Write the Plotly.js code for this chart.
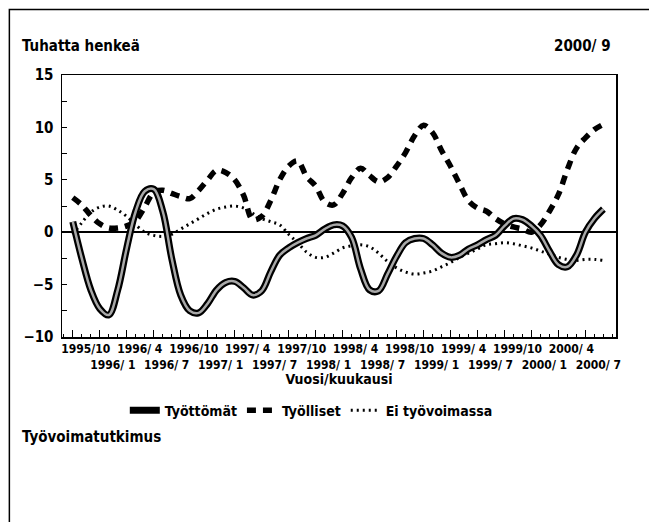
<!DOCTYPE html>
<html>
<head>
<meta charset="utf-8">
<script src="https://cdn.plot.ly/plotly-3.0.1.min.js"></script>
<style>
html,body{margin:0;padding:0;background:#fff;}
#chart{width:649px;height:522px;}
</style>
</head>
<body>
<div id="chart"></div>
<script>
// Monthly observations 1995/10 ... 2000/9 (change from previous year, thousand persons)
const months = [
  '1995/10','1995/11','1995/12',
  '1996/1','1996/2','1996/3','1996/4','1996/5','1996/6','1996/7','1996/8','1996/9','1996/10','1996/11','1996/12',
  '1997/1','1997/2','1997/3','1997/4','1997/5','1997/6','1997/7','1997/8','1997/9','1997/10','1997/11','1997/12',
  '1998/1','1998/2','1998/3','1998/4','1998/5','1998/6','1998/7','1998/8','1998/9','1998/10','1998/11','1998/12',
  '1999/1','1999/2','1999/3','1999/4','1999/5','1999/6','1999/7','1999/8','1999/9','1999/10','1999/11','1999/12',
  '2000/1','2000/2','2000/3','2000/4','2000/5','2000/6','2000/7','2000/8','2000/9'
];
const tyottomat = [
  1.0,-2.5,-5.5,-7.3,-7.9,-5.5,-1.5,2.0,3.9,4.1,
  2.0,-2.5,-6.0,-7.5,-7.7,-6.8,-5.5,-4.8,-4.7,-5.3,
  -6.0,-5.6,-3.8,-2.2,-1.5,-1.0,-0.6,-0.3,0.3,0.7,
  0.6,-0.5,-3.5,-5.5,-5.6,-4.0,-2.3,-1.0,-0.6,-0.6,
  -1.2,-2.0,-2.4,-2.2,-1.6,-1.2,-0.7,-0.3,0.6,1.3,
  1.2,0.6,-0.3,-1.8,-3.1,-3.3,-2.2,0.0,1.3,2.2
];
const tyolliset = [
  3.3,2.6,1.6,0.8,0.4,0.4,0.6,1.1,2.4,3.8,
  4.0,3.7,3.4,3.2,4.0,5.0,5.9,5.7,5.0,3.5,
  1.2,1.5,3.0,5.0,6.3,6.8,5.3,4.4,2.9,2.6,
  3.7,5.2,6.1,5.4,4.8,5.2,6.3,7.6,9.2,10.2,
  9.5,7.8,6.3,4.6,3.0,2.3,2.0,1.3,0.8,0.5,
  0.3,0.0,0.7,2.0,3.6,6.0,8.0,9.0,9.8,10.3
];
const eiTyovoimassa = [
  -0.2,0.9,1.9,2.4,2.5,2.1,1.5,0.7,0.0,-0.3,
  -0.4,-0.2,0.3,0.8,1.3,1.8,2.2,2.4,2.5,2.3,
  1.8,1.3,1.0,0.7,-0.2,-1.0,-1.9,-2.4,-2.4,-2.0,
  -1.5,-1.3,-1.2,-1.4,-2.0,-2.8,-3.4,-3.8,-4.0,-3.9,
  -3.7,-3.3,-2.9,-2.4,-2.0,-1.6,-1.2,-1.1,-1.0,-1.1,
  -1.3,-1.5,-1.8,-2.1,-2.4,-2.6,-2.7,-2.6,-2.6,-2.7
];
const tickMonths = ['1995/10','1996/1','1996/4','1996/7','1996/10','1997/1','1997/4','1997/7','1997/10',
  '1998/1','1998/4','1998/7','1998/10','1999/1','1999/4','1999/7','1999/10','2000/1','2000/4','2000/7'];
const tickLabels = ['1995/10','1996/ 1','1996/ 4','1996/ 7','1996/10','1997/ 1','1997/ 4','1997/ 7','1997/10',
  '1998/ 1','1998/ 4','1998/ 7','1998/10','1999/ 1','1999/ 4','1999/ 7','1999/10','2000/ 1','2000/ 4','2000/ 7'];
const seriesNames = ['Työttömät','Työlliset','Ei työvoimassa'];

const FONT = 'Liberation Sans Narrow, DejaVu Sans Condensed, Arial Narrow, sans-serif';
const x = months.map((m, i) => i);
const tickVals = tickMonths.map(t => months.indexOf(t));
const tickText = tickLabels.map((t, i) => i % 2 === 1 ? '<br>' + t : t);

const traces = [
  {x: x, y: eiTyovoimassa, name: seriesNames[2], mode: 'lines', type: 'scatter',
   line: {color: '#000', width: 3, dash: '2px,4px', shape: 'spline'}, legendrank: 3},
  {x: x, y: tyolliset, name: seriesNames[1], mode: 'lines', type: 'scatter',
   line: {color: '#000', width: 5.5, dash: '9px,7px', shape: 'spline'}, legendrank: 2},
  {x: x, y: tyottomat, name: seriesNames[0], mode: 'lines', type: 'scatter',
   line: {color: '#000', width: 7, shape: 'spline'}, legendrank: 1},
  {x: x, y: tyottomat, name: seriesNames[0], mode: 'lines', type: 'scatter', showlegend: false,
   line: {color: '#a8a8a8', width: 2.5, shape: 'spline'}, hoverinfo: 'skip'}
];

const layout = {
  width: 649, height: 522,
  margin: {l: 62, r: 33, t: 75, b: 185},
  paper_bgcolor: '#fff', plot_bgcolor: '#fff',
  font: {family: FONT, size: 13, color: '#000'},
  showlegend: true,
  legend: {orientation: 'h', x: 0.45, xanchor: 'center', y: -0.22, yanchor: 'top',
    font: {family: FONT, size: 14, color: '#000', weight: 'bold'}, traceorder: 'normal',
    itemwidth: 30, tracegroupgap: 0},
  xaxis: {
    range: [-1.2, 60.4], showgrid: false, zeroline: false,
    showline: true, mirror: true, linecolor: '#000', linewidth: 1.5,
    ticks: 'inside', ticklen: 7, tickcolor: '#000', tickwidth: 1,
    tickmode: 'array', tickvals: tickVals, ticktext: tickText,
    tickangle: 0, ticklabelshift: 13,
    tickfont: {family: FONT, size: 12, color: '#000', weight: 'bold'},
    minor: {dtick: 1, tick0: 0, ticks: 'inside', ticklen: 3, tickcolor: '#000', showgrid: false},
    title: {text: 'Vuosi/kuukausi', font: {family: FONT, size: 14, color: '#000', weight: 'bold'}, standoff: 2}
  },
  yaxis: {
    range: [-10, 15], showgrid: false,
    zeroline: true, zerolinecolor: '#000', zerolinewidth: 1.5,
    showline: true, mirror: true, linecolor: '#000', linewidth: 1.5,
    ticks: 'inside', ticklen: 5, tickcolor: '#000', dtick: 5, tick0: 0,
    tickfont: {family: FONT, size: 15, color: '#000', weight: 'bold'},
    minor: {dtick: 2.5, tick0: 0, ticks: 'inside', ticklen: 5, tickcolor: '#000', showgrid: false},
    ticklabelstandoff: 4
  },
  annotations: [
    {text: 'Tuhatta henkeä', xref: 'paper', yref: 'paper', x: -0.075, y: 1.11, xanchor: 'left', yanchor: 'middle',
     showarrow: false, font: {family: FONT, size: 15, color: '#000', weight: 'bold'}},
    {text: '2000/ 9', xref: 'paper', yref: 'paper', x: 0.995, y: 1.11, xanchor: 'right', yanchor: 'middle',
     showarrow: false, font: {family: FONT, size: 15, color: '#000', weight: 'bold'}},
    {text: 'Työvoimatutkimus', xref: 'paper', yref: 'paper', x: -0.075, y: -0.38, xanchor: 'left', yanchor: 'middle',
     showarrow: false, font: {family: FONT, size: 15, color: '#000', weight: 'bold'}}
  ],
  shapes: [
    {type: 'rect', xref: 'paper', yref: 'paper', x0: -0.095, x1: 1.12, y0: -0.8, y1: 1.25,
     line: {color: '#000', width: 1.5}, fillcolor: 'rgba(0,0,0,0)', layer: 'below'}
  ]
};

Plotly.newPlot('chart', traces, layout, {displayModeBar: false, staticPlot: true});
</script>
</body>
</html>
